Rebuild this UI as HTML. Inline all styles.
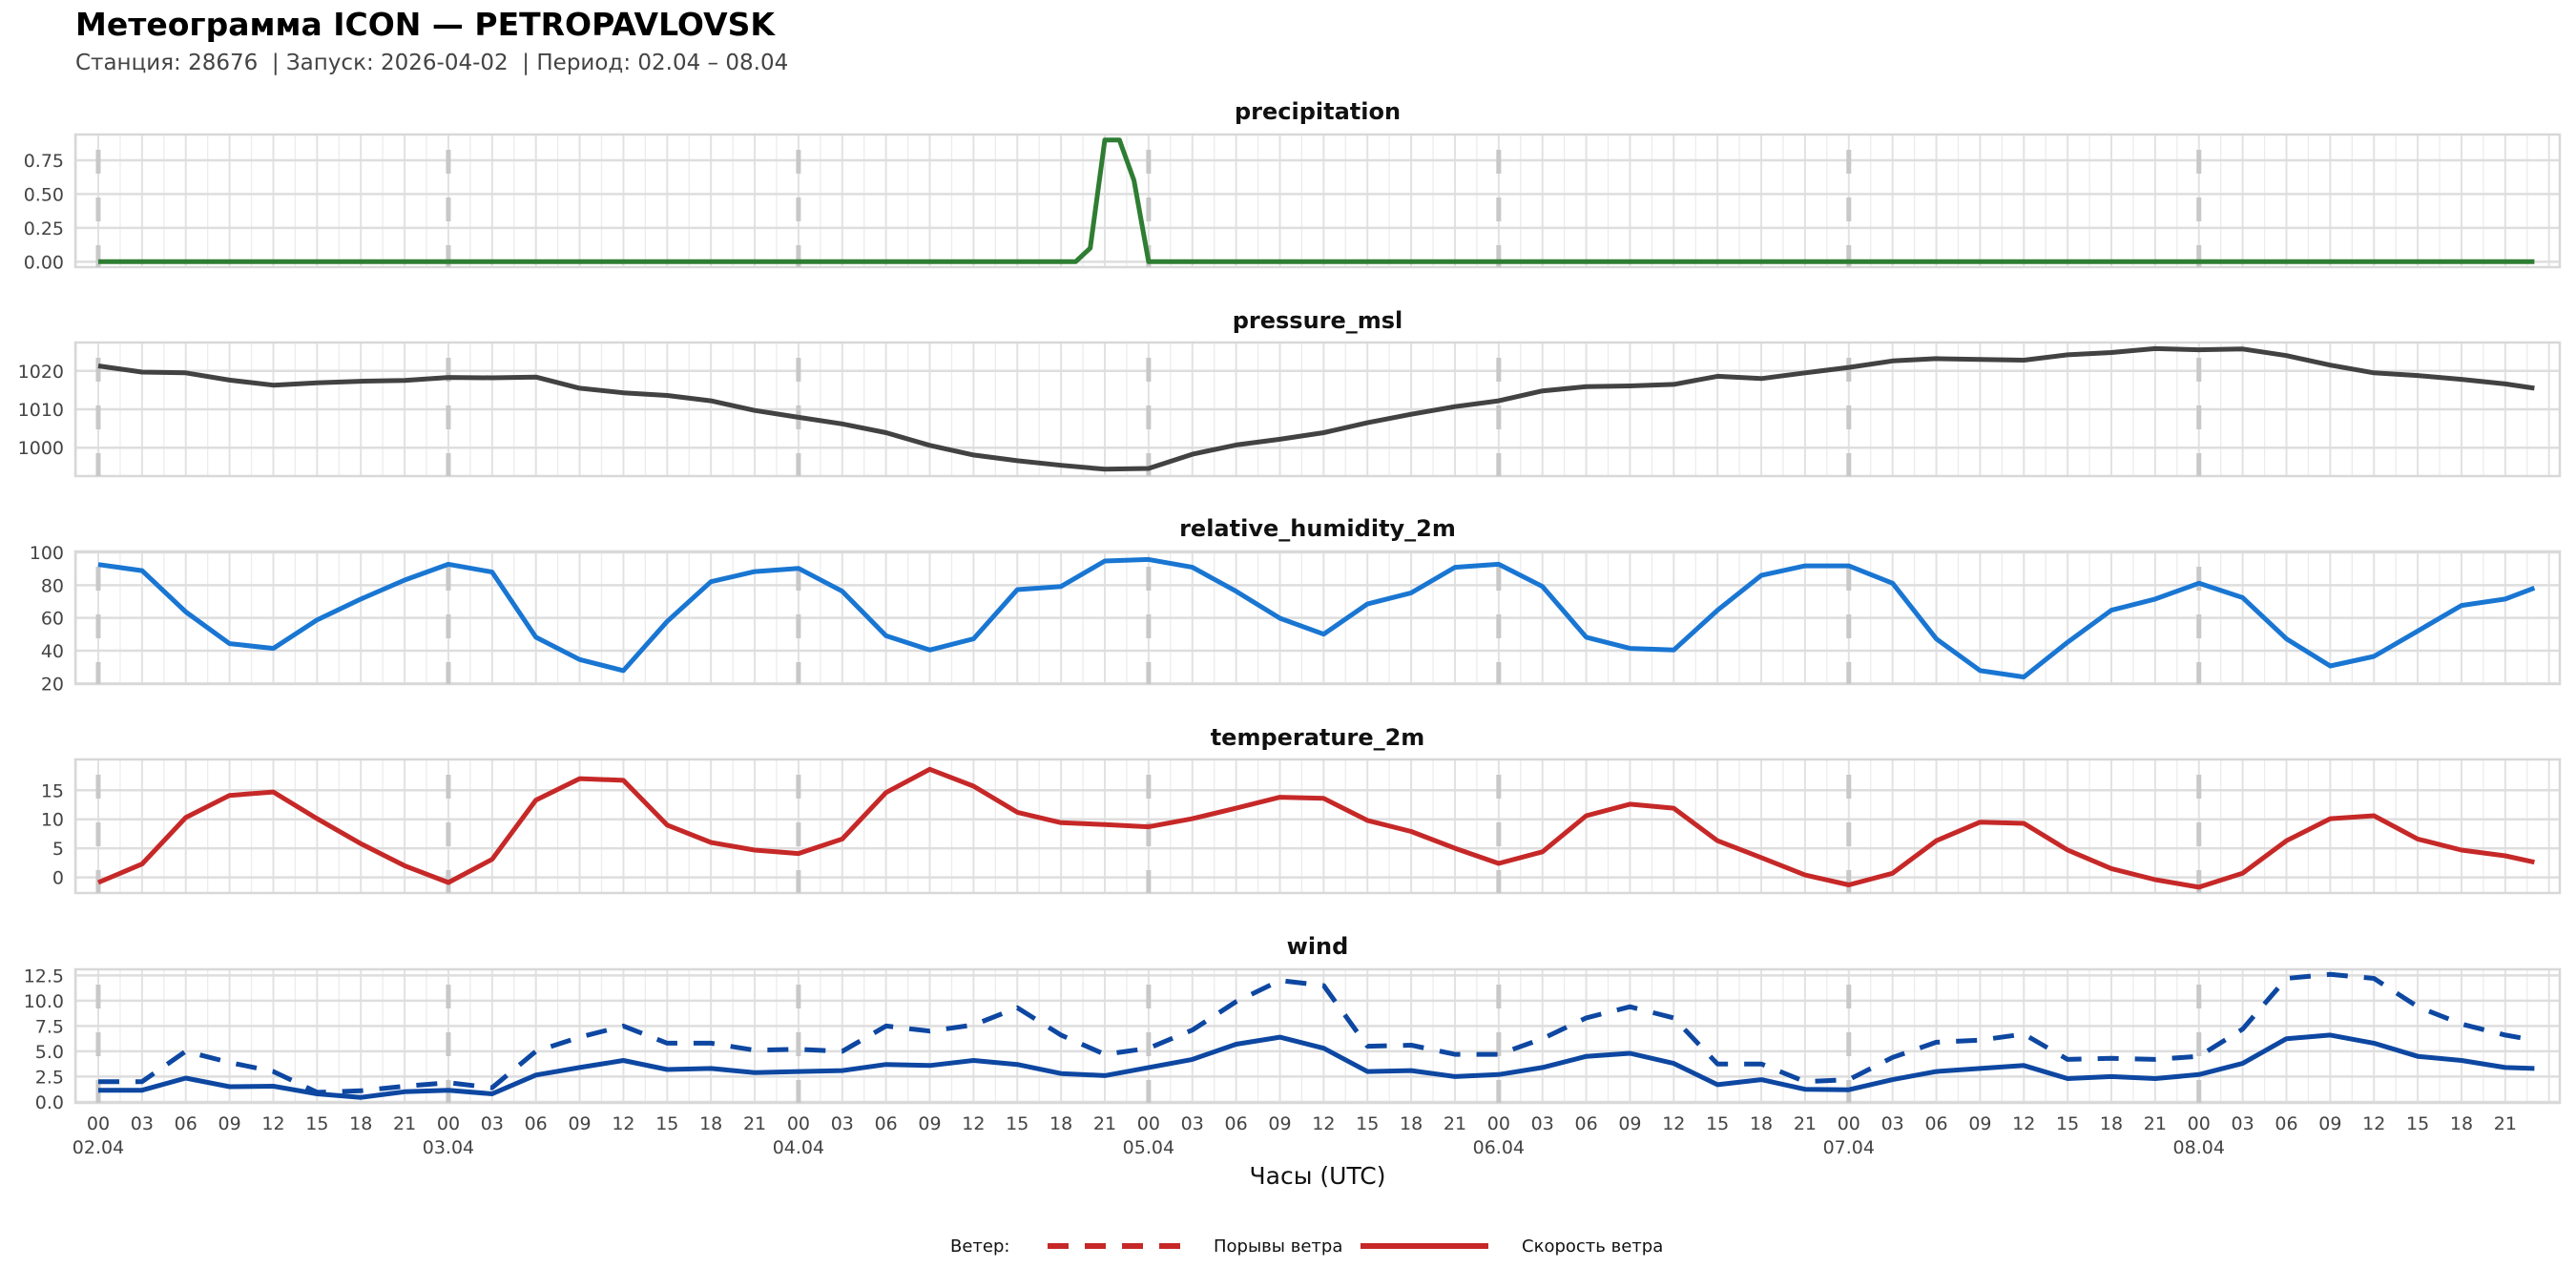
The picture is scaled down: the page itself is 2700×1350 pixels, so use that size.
<!DOCTYPE html>
<html><head><meta charset="utf-8"><style>
html,body{margin:0;padding:0;background:#fff;}
svg{display:block;font-family:"DejaVu Sans","Liberation Sans",sans-serif;}
</style></head><body>
<svg id="chart" width="2700" height="1350" viewBox="0 0 2700 1350" xmlns="http://www.w3.org/2000/svg">
<text x="79" y="37" font-size="33" font-weight="bold" fill="#000">Метеограмма ICON — PETROPAVLOVSK</text>
<text x="79" y="73" font-size="23" fill="#444" xml:space="preserve">Станция: 28676  | Запуск: 2026-04-02  | Период: 02.04 – 08.04</text>
<g id="panels"></g>
<text x="1381" y="1241" font-size="25" text-anchor="middle" fill="#111">Часы (UTC)</text>
<g>
<text x="996" y="1312" font-size="18" fill="#111">Ветер:</text>
<line x1="1098" y1="1306" x2="1240" y2="1306" stroke="#c62828" stroke-width="6" stroke-dasharray="22 17"/>
<text x="1272" y="1312" font-size="18" fill="#111">Порывы ветра</text>
<line x1="1426" y1="1306" x2="1560" y2="1306" stroke="#c62828" stroke-width="6"/>
<text x="1595" y="1312" font-size="18" fill="#111">Скорость ветра</text>
</g>
</svg>
<script>
const hours = [0,3,6,9,12,15,18,21,24,27,30,33,36,39,42,45,48,51,54,57,60,63,66,69,72,75,78,81,84,87,90,93,96,99,102,105,108,111,114,117,120,123,126,129,132,135,138,141,144,147,150,153,156,159,162,165,167];
const precipHours = [0,66,67,68,69,70,71,72,167];
const precipValues = [0,0,0,0.1,0.9,0.9,0.6,0,0];
const pressureValues = [1021.3,1019.7,1019.5,1017.6,1016.3,1016.9,1017.3,1017.5,1018.3,1018.2,1018.4,1015.5,1014.3,1013.6,1012.2,1009.7,1007.9,1006.2,1003.9,1000.6,998.1,996.6,995.4,994.4,994.6,998.3,1000.7,1002.2,1003.9,1006.5,1008.7,1010.7,1012.2,1014.8,1015.9,1016.1,1016.5,1018.6,1018.0,1019.5,1020.9,1022.6,1023.2,1023.0,1022.8,1024.2,1024.8,1025.8,1025.5,1025.7,1024.0,1021.5,1019.5,1018.8,1017.8,1016.6,1015.5];
const humidityValues = [92.6,88.9,63.7,44.3,41.4,58.8,71.5,83.1,92.8,88,48.2,34.6,27.8,57.9,82.1,88.3,90.3,76.3,49.1,40.4,47.2,77.3,79.2,94.8,95.7,90.9,76.3,59.8,50.1,68.5,75.3,90.9,92.8,79.2,48.2,41.4,40.4,64.7,86,91.8,91.8,81.2,47.2,27.8,23.9,45.2,64.7,71.5,81.2,72.4,47.2,30.7,36.5,52,67.6,71.5,78.3];
const temperatureValues = [-0.9,2.3,10.3,14.1,14.7,10.1,5.8,2,-0.9,3.1,13.3,17,16.7,9,6,4.7,4.1,6.6,14.6,18.6,15.7,11.2,9.4,9.1,8.7,10.1,11.9,13.8,13.6,9.8,7.9,5,2.4,4.4,10.6,12.6,11.9,6.3,3.4,0.4,-1.3,0.7,6.3,9.5,9.3,4.7,1.5,-0.4,-1.7,0.7,6.3,10.1,10.6,6.6,4.7,3.7,2.6];
const windSpeedValues = [1.15,1.15,2.35,1.5,1.55,0.8,0.45,1,1.15,0.8,2.65,3.4,4.1,3.2,3.3,2.9,3,3.1,3.7,3.6,4.1,3.7,2.8,2.6,3.4,4.2,5.7,6.4,5.3,3,3.1,2.5,2.7,3.4,4.5,4.8,3.8,1.7,2.2,1.25,1.2,2.2,3,3.3,3.6,2.3,2.5,2.3,2.7,3.8,6.25,6.6,5.8,4.5,4.1,3.4,3.3];
const windGustValues = [2,2,5,3.9,3,0.95,1.1,1.55,1.9,1.4,5,6.4,7.5,5.8,5.8,5.1,5.2,5,7.5,7,7.6,9.3,6.6,4.7,5.3,7.1,9.9,12,11.5,5.5,5.6,4.7,4.7,6.25,8.3,9.4,8.3,3.75,3.75,2,2.2,4.4,5.9,6.1,6.7,4.2,4.3,4.2,4.5,7.2,12.2,12.6,12.2,9.4,7.7,6.6,6.1];
const pPrecipTicks = [0,0.25,0.5,0.75];
const pPressureTicks = [1000,1010,1020];
const pHumidityTicks = [20,40,60,80,100];
const pTempTicks = [0,5,10,15];
const pWindTicks = [0,2.5,5,7.5,10,12.5];
const dayLabels = ["02.04","03.04","04.04","05.04","06.04","07.04","08.04"];

const NS = "http://www.w3.org/2000/svg";
const L = 79, R = 2683;
function xs(h){ return 103 + h*15.29; }
function mk(tag, attrs, parent){ const e=document.createElementNS(NS,tag); for(const k in attrs) e.setAttribute(k,attrs[k]); parent.appendChild(e); return e; }
const root = document.getElementById('panels');

const panels = [
 {name:'precipitation', title:'precipitation', top:141, bot:280, vTop:0.94, vBot:-0.04, ticks:pPrecipTicks, fmt:v=>v.toFixed(2), ty:117},
 {name:'pressure', title:'pressure_msl', top:359, bot:499, vTop:1027.4, vBot:992.6, ticks:pPressureTicks, fmt:v=>String(v), ty:336},
 {name:'humidity', title:'relative_humidity_2m', top:578, bot:717, vTop:100.6, vBot:19.6, ticks:pHumidityTicks, fmt:v=>String(v), ty:554},
 {name:'temperature', title:'temperature_2m', top:796, bot:936, vTop:20.3, vBot:-2.7, ticks:pTempTicks, fmt:v=>String(v), ty:773},
 {name:'wind', title:'wind', top:1016, bot:1156, vTop:13.1, vBot:-0.1, ticks:pWindTicks, fmt:v=>v.toFixed(1), ty:992}
];

function yScale(p){ return v => p.top + (p.vTop - v)/(p.vTop - p.vBot)*(p.bot-p.top); }
function pathFrom(hs, vs, ys){ let d=''; for(let i=0;i<hs.length;i++){ d += (i?'L':'M') + xs(hs[i]).toFixed(1)+','+ys(vs[i]).toFixed(1); } return d; }

panels.forEach(p=>{
  const g = mk('g',{},root);
  
  
  const ys = yScale(p);
  const t = mk('text',{x:(L+R)/2,y:p.ty+8,'font-size':24,'font-weight':'bold','text-anchor':'middle',fill:'#111'},g);
  t.textContent = p.title;
  
  
  for(let h=-1.5; h<=168; h+=1.5){
    const x=xs(h); if(x<L||x>R) continue;
    const major = (h%3===0);
    const ln = mk('line',{x1:x,x2:x,y1:p.top,y2:p.bot,stroke: major?'#e2e2e2':'#ececec','stroke-width': major?2:1.3},g);
    
    
  }
  p.ticks.forEach(v=>{
    const y=ys(v);
    const ln = mk('line',{x1:L,x2:R,y1:y,y2:y,stroke:'#dedede','stroke-width':2.5},g);
    
    
    const tx = mk('text',{x:L-12,y:y+7,'font-size':19,'text-anchor':'end',fill:'#444'},g);
    tx.textContent = p.fmt(v);
    
    
  });
  const fr = mk('rect',{x:L,y:p.top,width:R-L,height:p.bot-p.top,fill:'none',stroke:'#d8d8d8','stroke-width':2.5},g);
  
  
  for(let d=0; d<7; d++){
    const x=xs(d*24);
    const ln = mk('line',{x1:x,x2:x,y1:p.top,y2:p.bot,stroke:'#c8c8c8','stroke-width':5,'stroke-dasharray':'25 25','stroke-dashoffset':34},g);
    
    
  }
  const add = (hs, vs, color, name, dash) => {
    const a = {d:pathFrom(hs,vs,ys),fill:'none',stroke:color,'stroke-width':5,'stroke-linejoin':'round'};
    if(dash) a['stroke-dasharray']=dash;
    const pth = mk('path',a,g);
    
    
  };
  if(p.name==='precipitation') add(precipHours, precipValues, '#2e7d32', 'precipitation-line');
  if(p.name==='pressure') add(hours, pressureValues, '#424242', 'pressure-line');
  if(p.name==='humidity') add(hours, humidityValues, '#1976d2', 'humidity-line');
  if(p.name==='temperature') add(hours, temperatureValues, '#c62828', 'temperature-line');
  if(p.name==='wind'){
    add(hours, windGustValues, '#0d47a1', 'wind-gust-line', '22 17');
    add(hours, windSpeedValues, '#0d47a1', 'wind-speed-line');
  }
});

for(let h=0; h<168; h+=3){
  const tx = mk('text',{x:xs(h),y:1184,'font-size':19,'text-anchor':'middle',fill:'#444'},root);
  tx.textContent = String(h%24).padStart(2,'0');
  
  
}
dayLabels.forEach((lab,i)=>{
  const tx = mk('text',{x:xs(i*24),y:1209,'font-size':19,'text-anchor':'middle',fill:'#444'},root);
  tx.textContent = lab;
  
  
});
</script>
</body></html>
